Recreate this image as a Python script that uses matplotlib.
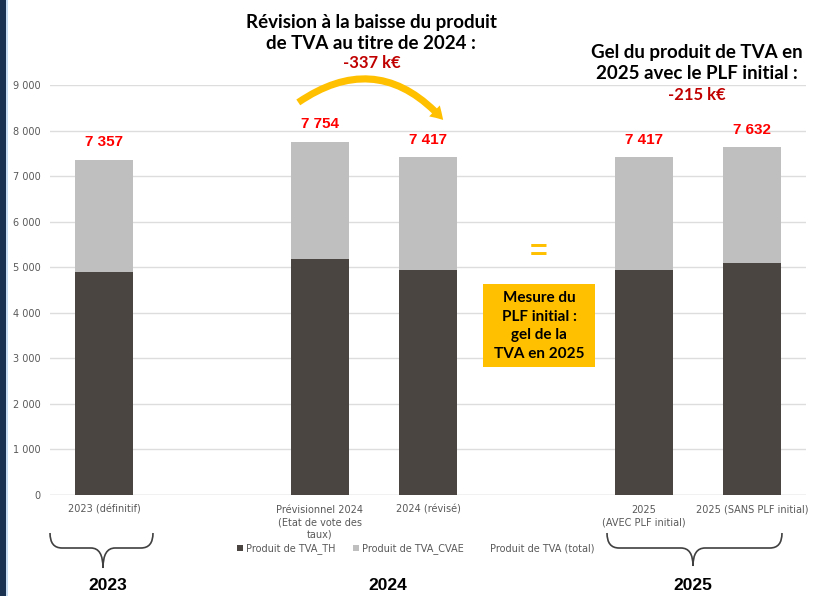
import matplotlib
matplotlib.use("Agg")
import matplotlib.pyplot as plt
import numpy as np
from matplotlib.lines import Line2D
from matplotlib.patches import FancyArrowPatch, PathPatch, Rectangle
from matplotlib.path import Path
from matplotlib.ticker import FuncFormatter

# categories (blank slots keep the gaps between years)
categories = ["2023 (définitif)", "", "Prévisionnel 2024\n(Etat de vote des\ntaux)",
              "2024 (révisé)", "", "2025\n(AVEC PLF initial)", "2025 (SANS PLF initial)"]
tva_th = [4895, np.nan, 5175, 4940, np.nan, 4940, 5085]
tva_cvae = [2462, np.nan, 2579, 2477, np.nan, 2477, 2547]
tva_total = [7357, np.nan, 7754, 7417, np.nan, 7417, 7632]
total_labels = ["7 357", "", "7 754", "7 417", "", "7 417", "7 632"]
year_labels = ["2023", "2024", "2025"]

W, H = 816, 596
DARK = "#4B4542"
LIGHT = "#BFBFBF"
GOLD = "#FFC000"
GREY_TXT = "#595959"


def fx(x):
    return x / W


def fy(y):
    return 1 - y / H


fig = plt.figure(figsize=(W / 100, H / 100), dpi=100)
ax = fig.add_axes([fx(50), fy(495), fx(806) - fx(50), fy(85) - fy(495)])

x = np.arange(len(categories))
ax.bar(x, tva_th, width=0.53, color=DARK, label="Produit de TVA_TH", zorder=3)
ax.bar(x, tva_cvae, width=0.53, bottom=tva_th, color=LIGHT,
       label="Produit de TVA_CVAE", zorder=3)

for xi, tot, lab in zip(x, tva_total, total_labels):
    if np.isnan(tot):
        continue
    ax.annotate(lab, (xi, tot), xytext=(0, 12.5), textcoords="offset points",
                ha="center", va="center", color="#FF0000", fontsize=11,
                fontweight="bold", family="Liberation Sans")

ax.set_xlim(-0.5, len(categories) - 0.5)
ax.set_ylim(0, 9000)
ax.set_yticks(np.arange(0, 9001, 1000))
ax.yaxis.set_major_formatter(FuncFormatter(lambda v, p: f"{int(v):,}".replace(",", " ")))
ax.set_xticks(x)
ax.set_xticklabels(categories, linespacing=1.3)
ax.tick_params(axis="both", length=0, labelsize=7, labelcolor=GREY_TXT)
ax.tick_params(axis="x", pad=7)
ax.tick_params(axis="y", pad=7)
ax.grid(axis="y", color="#DDDDDD", lw=1, zorder=0)
for s in ax.spines.values():
    s.set_visible(False)
ax.axhline(0, color="#D9D9D9", lw=1, zorder=1)

# legend with the invisible total series
handles, labels = ax.get_legend_handles_labels()
handles.append(Line2D([], [], color="none"))
labels.append("Produit de TVA (total)")
fig.legend(handles, labels, loc="center", bbox_to_anchor=(fx(416), fy(549)),
           ncol=3, frameon=False, fontsize=7, labelcolor=GREY_TXT,
           handlelength=0.6, handleheight=0.6, handletextpad=0.3,
           columnspacing=1.8)

# titles
title_kw = dict(ha="center", va="center", fontsize=13.5, fontweight="bold",
                family="Lato", color="black", linespacing=1.3)
fig.text(fx(371), fy(33), "Révision à la baisse du produit\nde TVA au titre de 2024 :", **title_kw)
fig.text(fx(372), fy(63), "-337 k€", ha="center", va="center", fontsize=12,
         fontweight="bold", family="Lato", color="#C00000")
fig.text(fx(697), fy(63), "Gel du produit de TVA en\n2025 avec le PLF initial :", **title_kw)
fig.text(fx(697), fy(95), "-215 k€", ha="center", va="center", fontsize=12,
         fontweight="bold", family="Lato", color="#C00000")

# curved arrow
arrow = FancyArrowPatch((fx(296), fy(104)), (fx(445), fy(122)),
                        transform=fig.transFigure,
                        connectionstyle="arc3,rad=-0.45",
                        arrowstyle="simple,head_width=11,head_length=9,tail_width=5",
                        color=GOLD, lw=0)
fig.add_artist(arrow)

# "=" and box
fig.text(fx(539), fy(253), "=", ha="center", va="center", fontsize=22,
         fontweight="bold", color=GOLD, family="Liberation Sans")
fig.add_artist(Rectangle((fx(483), fy(367)), fx(595) - fx(483), fy(284) - fy(367),
                         transform=fig.transFigure, color=GOLD, lw=0))
fig.text(fx(539), fy(326), "Mesure du\nPLF initial :\ngel de la\nTVA en 2025",
         ha="center", va="center", fontsize=11, fontweight="bold",
         family="Lato", linespacing=1.45)


def brace(x0, x1, xc, y_top, y_mid, y_tip, r=12):
    pts = [(x0, y_top), (x0, y_mid), (x0 + r, y_mid),
           (xc - r, y_mid), (xc, y_mid), (xc, y_tip),
           (xc, y_mid), (xc + r, y_mid),
           (x1 - r, y_mid), (x1, y_mid), (x1, y_top)]
    codes = [Path.MOVETO, Path.CURVE3, Path.CURVE3,
             Path.LINETO, Path.CURVE3, Path.CURVE3,
             Path.CURVE3, Path.CURVE3,
             Path.LINETO, Path.CURVE3, Path.CURVE3]
    verts = [(fx(a), fy(b)) for a, b in pts]
    fig.add_artist(PathPatch(Path(verts, codes), transform=fig.transFigure,
                             fill=False, ec="#404040", lw=1.2))


brace(50, 153, 103, 533, 548, 568)
brace(607, 782, 693, 533, 548, 566)

for lab, xp in zip(year_labels, [108, 388, 693]):
    fig.text(fx(xp), fy(586), lab, ha="center", va="center", fontsize=12.5,
             fontweight="bold", family="Liberation Sans")

# slide border on the left
fig.add_artist(Rectangle((0, 0), fx(6), 1, transform=fig.transFigure,
                         color="#1B3150", lw=0))
fig.add_artist(Rectangle((fx(6), 0), fx(2), 1, transform=fig.transFigure,
                         color="#C9DDF2", lw=0))

fig.savefig("out.png", dpi=100)
